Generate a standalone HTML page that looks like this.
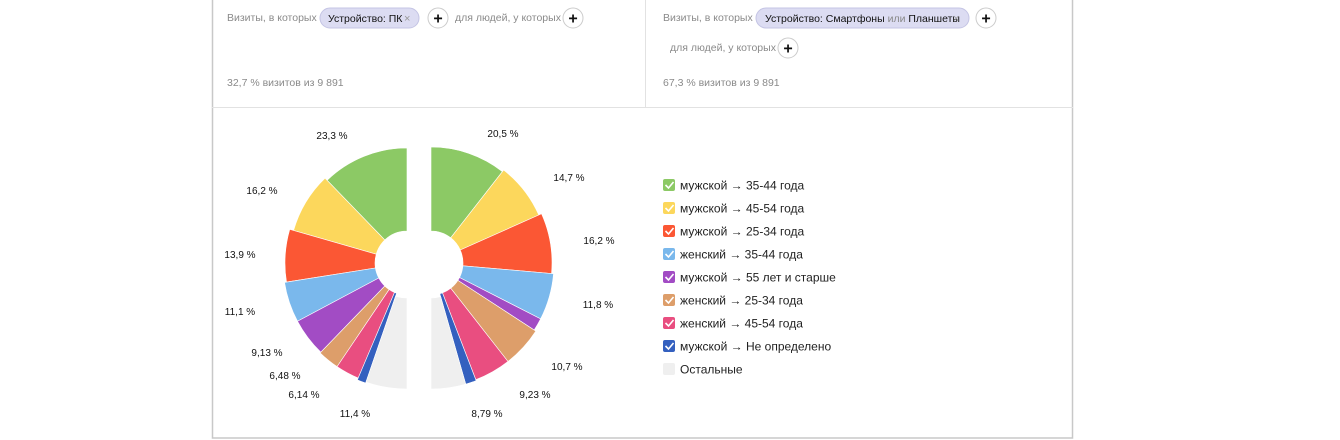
<!DOCTYPE html>
<html><head><meta charset="utf-8"><style>
body{margin:0;width:1340px;height:440px;background:#fff;overflow:hidden;font-family:"Liberation Sans",sans-serif;}
svg{position:absolute;left:0;top:0}
</style></head><body>
<svg id="s" width="1340" height="440" xmlns="http://www.w3.org/2000/svg" font-family="Liberation Sans, sans-serif">
<rect x="212.5" y="-2" width="860" height="440" fill="none" stroke="#c8c8c8" stroke-width="1.5"/>
<line x1="212" y1="107.5" x2="1073" y2="107.5" stroke="#e2e2e2"/>
<line x1="645.5" y1="0" x2="645.5" y2="107" stroke="#e2e2e2"/>
<g font-size="10.5" fill="#8a8a8a">
<text x="227" y="21">Визиты, в которых</text>
<text x="455" y="21">для людей, у которых</text>
<text x="227" y="86">32,7 % визитов из 9 891</text>
<text x="663" y="21">Визиты, в которых</text>
<text x="670" y="51">для людей, у которых</text>
<text x="663" y="86">67,3 % визитов из 9 891</text>
</g>
<rect x="320" y="8" width="99" height="20" rx="10" fill="#dcdcf2" stroke="#c4c4e4"/>
<text x="328" y="22" font-size="10.5" fill="#111">Устройство: ПК</text>
<text x="404" y="22" font-size="11" fill="#999">×</text>
<rect x="756" y="8" width="213" height="20" rx="10" fill="#dcdcf2" stroke="#c4c4e4"/>
<text x="765" y="22" font-size="10.5" fill="#111">Устройство: Смартфоны <tspan fill="#888">или</tspan> Планшеты</text>
<text x="953" y="22" font-size="11" fill="#999">×</text>
<g fill="#fff" stroke="#ccc">
<circle cx="438" cy="18" r="10"/><circle cx="573" cy="18" r="10"/><circle cx="986" cy="18" r="10"/><circle cx="788" cy="48" r="10"/>
</g>
<g font-size="16" font-weight="bold" fill="#111" text-anchor="middle">
<text x="438" y="23.5">+</text><text x="573" y="23.5">+</text><text x="986" y="23.5">+</text><text x="788" y="53.5">+</text>
</g>
<g id="pie"></g>
<g font-size="10" fill="#111" text-anchor="middle">
<text x="332" y="139">23,3 %</text><text x="262" y="194">16,2 %</text><text x="240" y="258">13,9 %</text><text x="240" y="315">11,1 %</text>
<text x="267" y="356">9,13 %</text><text x="285" y="379">6,48 %</text><text x="304" y="398">6,14 %</text><text x="355" y="417">11,4 %</text>
<text x="503" y="137">20,5 %</text><text x="569" y="181">14,7 %</text><text x="599" y="244">16,2 %</text><text x="598" y="308">11,8 %</text>
<text x="567" y="370">10,7 %</text><text x="535" y="398">9,23 %</text><text x="487" y="417">8,79 %</text>
</g>
<g id="leg" font-size="12" fill="#222"></g>
</svg>
<script>
var C=["#8cc965","#fcd75c","#fb5734","#7ab8ec","#a24cc4","#dd9e6a","#e94e80","#3460bf","#efefef"];
function arc(cx,cy,r0,r1,a0,a1,dir){
 function p(r,a){a=a*Math.PI/180;return [cx+dir*r*Math.sin(a),cy-r*Math.cos(a)];}
 var A=p(r1,a0),B=p(r1,a1),D=p(r0,a1),E=p(r0,a0),sw=dir>0?1:0,sw2=dir>0?0:1;
 return "M"+A+" A"+r1+","+r1+" 0 0 "+sw+" "+B+" L"+D+" A"+r0+","+r0+" 0 0 "+sw2+" "+E+"Z";
}
var L=[[0,44,115,32],[44,74,118,32],[74,99,122,32],[99,118,124,32],[118,136,124,32],[136,146,125,32],[146,157,125,32],[157,161,127,32],[161,180,126,35]];
var R=[[0,38,116,32],[38,66,118,32],[66,95,121,32],[95,117,123,32],[117,123,123,32],[123,142,125,32],[142,159,125,32],[159,164,126,32],[164,180,126,35]];
var h="";
L.forEach(function(s,i){h+='<path d="'+arc(407,263,s[3],s[2],s[0],s[1],-1)+'" fill="'+C[i]+'" stroke="#fff" stroke-width="0.6"/>';});
R.forEach(function(s,i){h+='<path d="'+arc(431,263,s[3],s[2],s[0],s[1],1)+'" fill="'+C[i]+'" stroke="#fff" stroke-width="0.6"/>';});
document.getElementById("pie").innerHTML=h;
var T=["мужской → 35-44 года","мужской → 45-54 года","мужской → 25-34 года","женский → 35-44 года","мужской → 55 лет и старше","женский → 25-34 года","женский → 45-54 года","мужской → Не определено","Остальные"];
var g="";
T.forEach(function(t,i){var y=185+i*23;
 g+='<rect x="663" y="'+(y-6)+'" width="12" height="12" rx="2" fill="'+C[i]+'"/>';
 if(i<8)g+='<path d="M665.5 '+(y)+' l3 3 l5 -6" stroke="#fff" stroke-width="1.6" fill="none"/>';
 g+='<text x="680" y="'+(y+4.5)+'">'+t+'</text>';});
document.getElementById("leg").innerHTML=g;
</script>
</body></html>
